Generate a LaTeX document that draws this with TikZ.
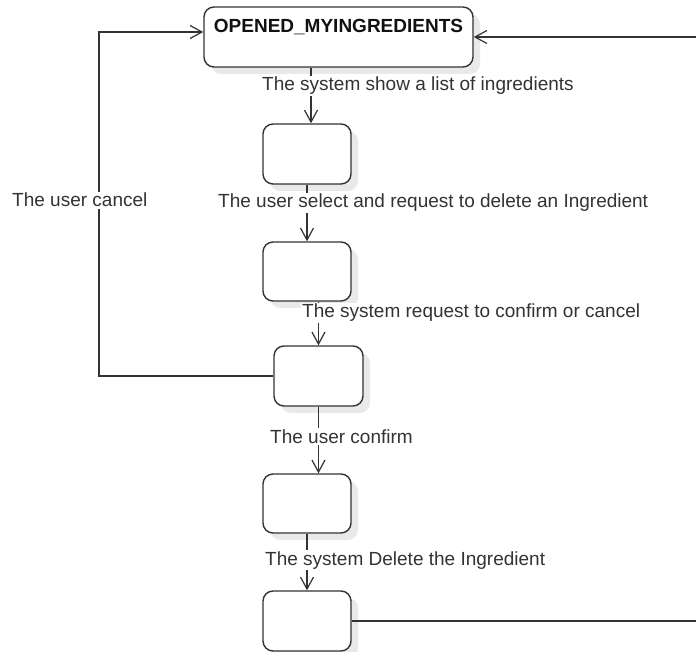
\documentclass[tikz,border=0pt]{standalone}
\usepackage{fontspec}
\setmainfont{Liberation Sans}
\usetikzlibrary{arrows.meta,shadows,calc}
\definecolor{ink}{HTML}{333333}
\definecolor{titleink}{HTML}{111111}
\definecolor{shade}{HTML}{E9E9E9}
\begin{document}
\begin{tikzpicture}[x=1pt,y=-1pt,
  state/.style={draw=ink, line width=1.4pt, rounded corners=10pt, fill=white,
    minimum width=88pt, minimum height=60pt, inner sep=0pt,
    drop shadow={shadow xshift=7pt, shadow yshift=-7pt, fill=shade, opacity=1}},
  flow/.style={draw=ink, line width=1.2pt, -{Straight Barb[length=12pt,width=13pt]}},
  tlabel/.style={anchor=base west, fill=white, inner sep=1.5pt, text=ink,
    font=\fontsize{19}{22}\selectfont},
]
\useasboundingbox (0,0) rectangle (696,652);
\clip (0,0) rectangle (696,652);

% states
\node[state, minimum width=269pt, text height=26pt, text depth=34pt,
  text=titleink, font=\bfseries\fontsize{19}{22}\selectfont]
  (top) at (338.5,37) {OPENED\_MYINGREDIENTS};
\node[state] (b1) at (307,154) {};
\node[state, minimum height=59pt] (b2) at (307,271.5) {};
\node[state, minimum width=89pt] (b3) at (318.5,376) {};
\node[state, minimum height=59pt] (b4) at (307,503.5) {};
\node[state] (b5) at (307,621) {};

% transitions
\draw[flow] ($(top.south)+(-27.5,0)$) -- ($(b1.north)+(4,0)$);
\draw[flow] (b1.south) -- (b2.north);
\draw[flow] (b2.south -| b3.north) -- (b3.north);
\draw[flow] (b3.south) -- (b4.north -| b3.south);
\draw[flow] (b4.south) -- (b5.north);
\coordinate (cl) at (99,32);
\draw[flow] (b3.west) -| (cl) -- (top.west |- cl);
\coordinate (cr) at (700,37);
\draw[flow] (b5.east) -| (cr) -- (top.east |- cr);

% transition labels
\node[tlabel] (l1) at (260.5,91) {The system show a list of ingredients};
\node[tlabel] (l2) at (216.5,208) {The user select and request to delete an Ingredient};
\node[tlabel] (l3) at (300.5,318) {The system request to confirm or cancel};
\node[tlabel] (l4) at (268.5,443) {The user confirm};
\node[tlabel] (l5) at (263.5,565) {The system Delete the Ingredient};
\node[tlabel] (l6) at (10.5,207) {The user cancel};
\end{tikzpicture}
\end{document}
